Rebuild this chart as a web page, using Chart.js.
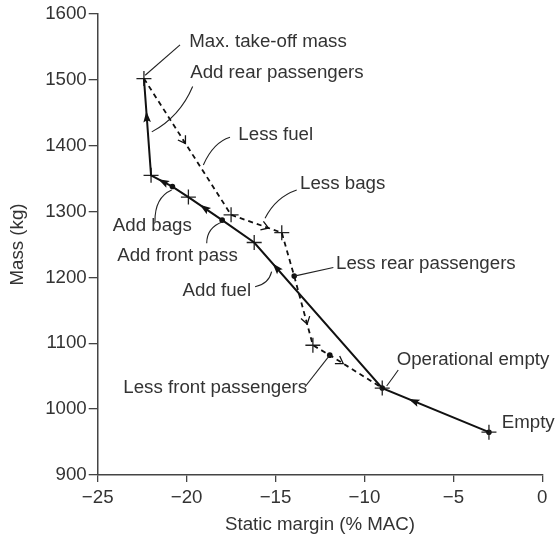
<!DOCTYPE html>
<html><head><meta charset="utf-8">
<script src="https://cdn.jsdelivr.net/npm/chart.js@4"></script>
<style>html,body{margin:0;padding:0;background:#fff}#wrap{width:555px;height:538px}</style>
</head><body><div id="wrap"><canvas id="c" width="555" height="538"></canvas></div>
<script>
// Loading path (solid): Empty -> Operational empty -> ... -> Max take-off mass
const loadX = [-3, -9, -16.2, -18, -19.9, -20.8, -22, -22.4];
const loadY = [965, 1032, 1253, 1287, 1322, 1338, 1355, 1502];
// Unloading path (dashed): Max take-off mass -> ... -> Operational empty
const unloadX = [-22.4, -17.5, -14.65, -13.95, -12.9, -11.95, -9];
const unloadY = [1502, 1295, 1268, 1202, 1097, 1082, 1032];
// Cross markers
const crossX = [-3, -9, -16.2, -19.9, -22, -22.4, -17.5, -14.65, -12.9];
const crossY = [965, 1032, 1253, 1322, 1355, 1502, 1295, 1268, 1097];
// Dot markers
const dotX = [-3, -9, -18, -20.8, -13.95, -11.95];
const dotY = [965, 1032, 1287, 1338, 1202, 1082];
// Axis ticks
const xTicks = [-25, -20, -15, -10, -5, 0];
const xTickLabels = ['\u221225', '\u221220', '\u221215', '\u221210', '\u22125', '0'];
const yTicks = [900, 1000, 1100, 1200, 1300, 1400, 1500, 1600];
const yTickLabels = ['900', '1000', '1100', '1200', '1300', '1400', '1500', '1600'];

// Annotation texts (data coords of anchor)
const labelText = ['Max. take-off mass', 'Add rear passengers', 'Less fuel', 'Less bags', 'Less rear passengers',
  'Add bags', 'Add front pass', 'Add fuel', 'Operational empty', 'Empty', 'Less front passengers'];
const labelX = [-19.85, -19.8, -17.09, -13.62, -11.6, -24.15, -23.9, -20.23, -8.19, -2.28, -23.56];
const labelY = [1557, 1511, 1416, 1342, 1220.4, 1278, 1233, 1179, 1075.4, 979.4, 1032];

const fmt = (list, labels) => v => { const i = list.indexOf(v); return i >= 0 ? labels[i] : ''; };

const toXY = (xs, ys) => xs.map((v, i) => ({ x: v, y: ys[i] }));

const FONT = '"Liberation Sans", Arial, Helvetica, sans-serif';
const FS = 18.7;
const INK = '#222';
const TXT = '#333';

// arrow placements: [segment index, fraction along segment]
const solidArrows = [[0, 0.71], [1, 0.83], [3, 0.54], [5, 0.45], [6, 0.61]];
const dashArrows = [[0, 0.47], [1, 0.72], [3, 0.68], [5, 0.24]];
// leader curves: [x0,y0, cx,cy, x1,y1] in data coords (quadratic)
const leaders = [
  [-22.33, 1507, -21.35, 1530, -20.37, 1553],
  [-21.96, 1421, -20.38, 1444, -19.66, 1490],
  [-19.06, 1370.7, -18.50, 1405, -17.56, 1412.8],
  [-15.59, 1289.8, -14.99, 1321.7, -13.81, 1332.7],
  [-13.95, 1202, -12.85, 1208.5, -11.75, 1215],
  [-21.78, 1284.6, -21.80, 1321.3, -20.84, 1332.7],
  [-18.87, 1251.8, -18.87, 1275.8, -17.97, 1284.6],
  [-16.15, 1185.9, -15.39, 1189.7, -15.22, 1208.7],
  [-8.75, 1035.1, -8.42, 1047, -8.10, 1059.4],
  [-13.34, 1034, -12.65, 1058, -11.95, 1082]
];

const annot = {
  id: 'annot',
  afterDatasetsDraw(chart) {
    const { ctx, scales: { x, y } } = chart;
    const P = (a, b) => [x.getPixelForValue(a), y.getPixelForValue(b)];
    const along = (xs, ys, s, f) => {
      const [x0, y0] = P(xs[s], ys[s]);
      const [x1, y1] = P(xs[s + 1], ys[s + 1]);
      return { px: x0 + (x1 - x0) * f, py: y0 + (y1 - y0) * f, ang: Math.atan2(y1 - y0, x1 - x0) };
    };
    ctx.save();
    solidArrows.forEach(([s, f]) => {
      const a = along(loadX, loadY, s, f);
      ctx.save(); ctx.translate(a.px, a.py); ctx.rotate(a.ang);
      ctx.beginPath(); ctx.moveTo(5, 0); ctx.lineTo(-6, -3.8); ctx.lineTo(-4, 0); ctx.lineTo(-6, 3.8); ctx.closePath();
      ctx.fillStyle = '#111'; ctx.fill(); ctx.restore();
    });
    dashArrows.forEach(([s, f]) => {
      const a = along(unloadX, unloadY, s, f);
      ctx.save(); ctx.translate(a.px, a.py); ctx.rotate(a.ang);
      ctx.beginPath(); ctx.moveTo(-6, -4.5); ctx.lineTo(1, 0); ctx.lineTo(-6, 4.5);
      ctx.strokeStyle = '#111'; ctx.lineWidth = 1.3; ctx.setLineDash([]); ctx.stroke(); ctx.restore();
    });
    ctx.strokeStyle = '#222'; ctx.lineWidth = 1.1; ctx.setLineDash([]);
    leaders.forEach(l => {
      const [a0, b0] = P(l[0], l[1]); const [ac, bc] = P(l[2], l[3]); const [a1, b1] = P(l[4], l[5]);
      ctx.beginPath(); ctx.moveTo(a0, b0); ctx.quadraticCurveTo(ac, bc, a1, b1); ctx.stroke();
    });
    ctx.fillStyle = TXT; ctx.font = FS + 'px ' + FONT; ctx.textBaseline = 'middle'; ctx.textAlign = 'left';
    labelText.forEach((t, i) => {
      const [px, py] = P(labelX[i], labelY[i]);
      ctx.fillText(t, px, py);
    });
    ctx.restore();
  }
};

new Chart(document.getElementById('c'), {
  type: 'scatter',
  data: {
    datasets: [
      { data: toXY(loadX, loadY), showLine: true, borderColor: '#111', borderWidth: 2, pointRadius: 0, fill: false, tension: 0 },
      { data: toXY(unloadX, unloadY), showLine: true, borderColor: '#111', borderWidth: 1.8, borderDash: [5, 4], pointRadius: 0, fill: false, tension: 0 },
      { data: toXY(crossX, crossY), showLine: false, pointStyle: 'cross', pointRadius: 7.5, borderColor: INK, borderWidth: 1.3, pointHoverRadius: 7.5 },
      { data: toXY(dotX, dotY), showLine: false, pointStyle: 'circle', pointRadius: 2.8, backgroundColor: '#111', borderColor: '#111', borderWidth: 0 }
    ]
  },
  options: {
    responsive: false,
    animation: false,
    devicePixelRatio: 1,
    events: [],
    clip: false,
    layout: { padding: { left: 0, right: 12.7, top: 14, bottom: 0 } },
    plugins: { legend: { display: false }, tooltip: { enabled: false } },
    scales: {
      x: {
        type: 'linear', min: -25, max: 0,
        afterBuildTicks: s => { s.ticks = xTicks.map(v => ({ value: v })); },
        afterFit: s => { s.height = 63; },
        grid: { display: true, drawOnChartArea: false, drawTicks: true, tickLength: 7, color: '#444', lineWidth: 1.3 },
        border: { display: true, color: '#444', width: 1.5 },
        ticks: { callback: fmt(xTicks, xTickLabels), color: TXT, font: { family: FONT, size: FS }, padding: 5, maxRotation: 0, autoSkip: false },
        title: { display: true, text: 'Static margin (% MAC)', color: TXT, font: { family: FONT, size: FS }, padding: { top: 0, bottom: 2 } }
      },
      y: {
        type: 'linear', min: 900, max: 1600,
        afterBuildTicks: s => { s.ticks = yTicks.map(v => ({ value: v })); },
        afterFit: s => { s.width = 97.7; },
        grid: { display: true, drawOnChartArea: false, drawTicks: true, tickLength: 9, color: '#444', lineWidth: 1.3 },
        border: { display: true, color: '#444', width: 1.5 },
        ticks: { callback: fmt(yTicks, yTickLabels), color: TXT, font: { family: FONT, size: FS }, padding: 2, autoSkip: false },
        title: { display: true, text: 'Mass (kg)', color: TXT, font: { family: FONT, size: FS }, padding: { top: 7, bottom: 0 } }
      }
    }
  },
  plugins: [annot]
});
</script>
</body></html>
